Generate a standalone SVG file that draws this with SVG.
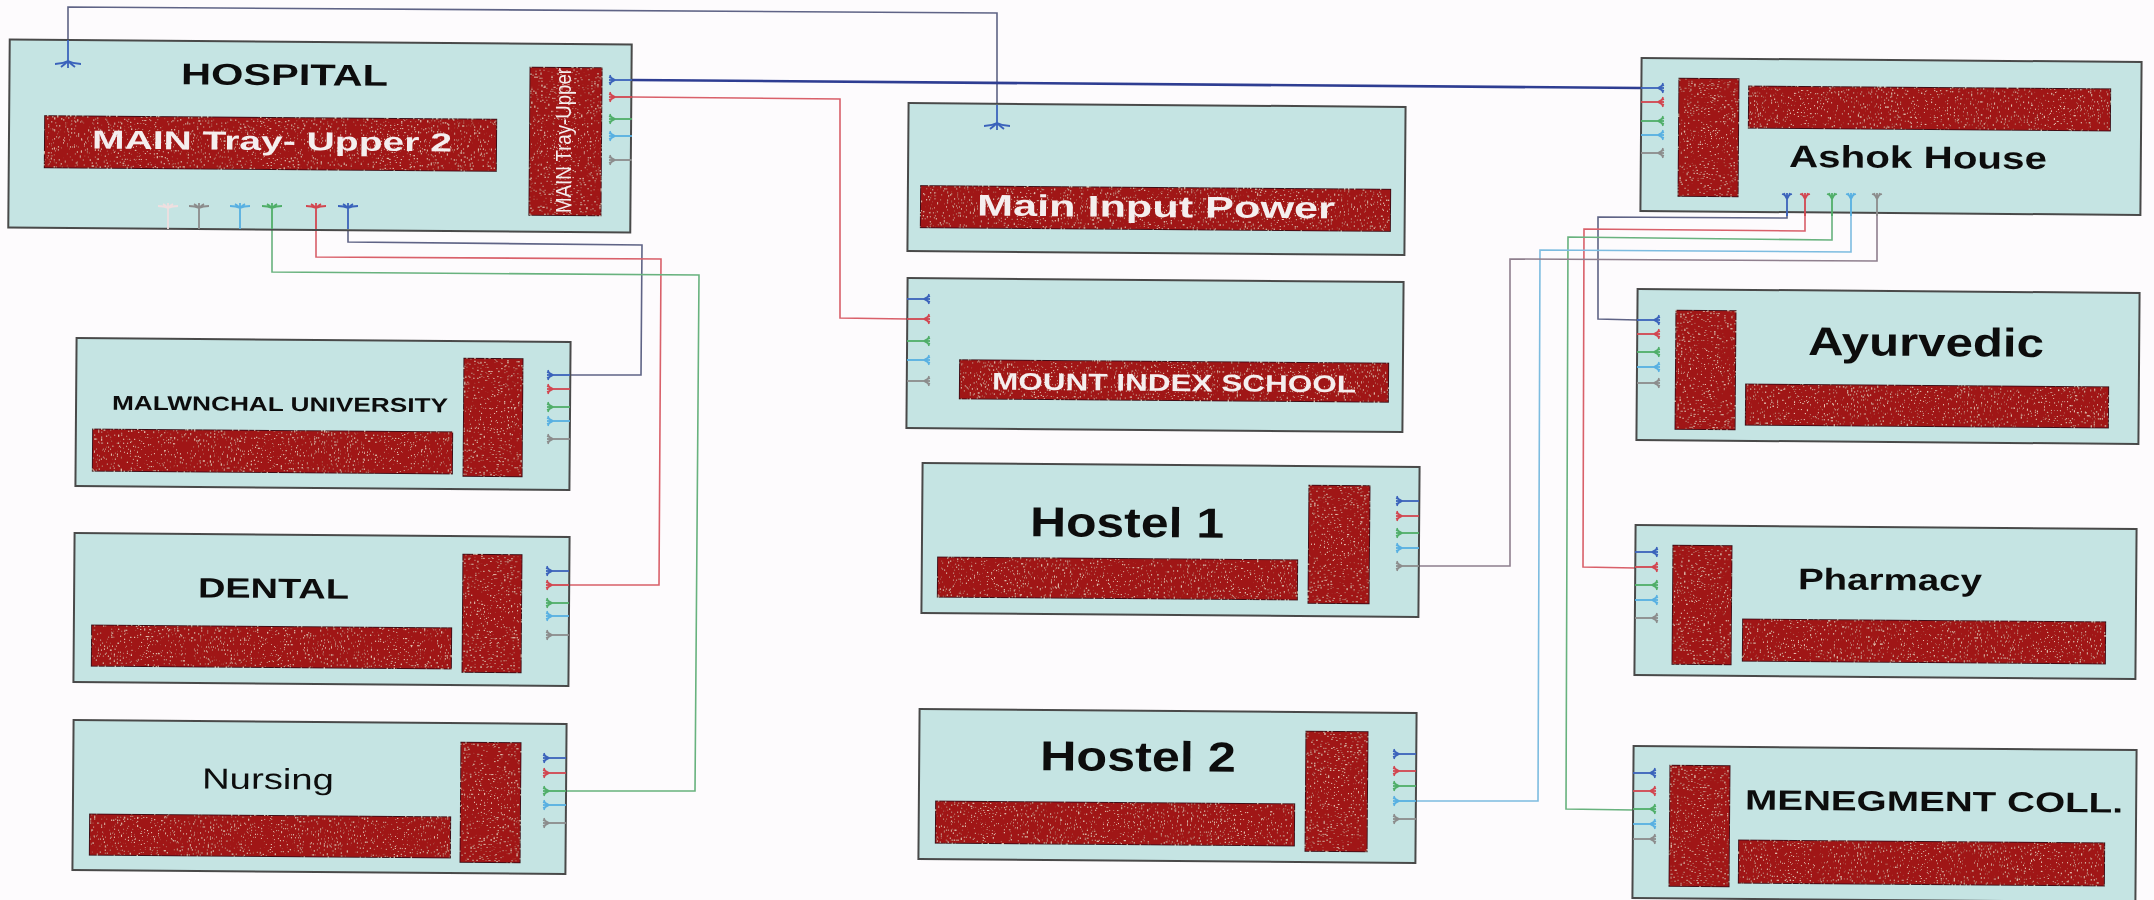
<svg xmlns="http://www.w3.org/2000/svg" width="2154" height="900" viewBox="0 0 2154 900">
<style>
g[id]{filter:url(#soft)}
.box{fill:#c5e4e3;stroke:#4a4a4a;stroke-width:2}
.red{fill:#a01319;stroke:#1c1012;stroke-width:1.5;filter:url(#spk)}
.box,.red,text{transform-box:fill-box;transform-origin:center;transform:rotate(.45deg)}
text{font-family:"Liberation Sans",Arial,sans-serif;font-weight:bold;fill:#0c0c0c}
.w{fill:#f4eeee}
.n{font-weight:normal}
.c{fill:none;stroke-width:1.6;stroke-linejoin:miter}
use,.s{fill:none;stroke-width:1.8}
.bl{stroke:#3a62bb}.rd{stroke:#d2454f}.gr{stroke:#4fae68}.lb{stroke:#58b0e2}.gy{stroke:#8c8c8c}.pk{stroke:#efdfe0}
.bc{stroke:#5f6486}.rc{stroke:#d9606a}.gc{stroke:#68b27e}.lc{stroke:#7dbce0}.yc{stroke:#8f7f8e}.th{stroke:#2e3d92;stroke-width:2.6}
</style>
<defs>
<filter id="soft" x="-2%" y="-2%" width="104%" height="104%"><feGaussianBlur stdDeviation="0.45"/></filter>
<filter id="spk" x="0" y="0" width="100%" height="100%">
<feTurbulence type="fractalNoise" baseFrequency="0.7" numOctaves="2" seed="4" result="t"/>
<feColorMatrix in="t" type="matrix" values="0 0 0 0 .85  0 0 0 0 .55  0 0 0 0 .45  0 0 0 9 -6" result="s"/>
<feComposite in="s" in2="SourceGraphic" operator="in" result="c"/>
<feMerge><feMergeNode in="SourceGraphic"/><feMergeNode in="c"/></feMerge>
</filter>
<g id="pt"><path d="M0 0V-17M0-17Q-1-21-5-22M0-17Q1-21 5-22M0-17Q-2-20-3-23M0-17Q2-20 3-23M0-17V-23"/></g>
<g id="pw"><path d="M0 0V-21M0-21Q-4-23-10-23M0-21Q4-23 10-23M0-21Q-3-24-5-25M0-21Q3-24 5-25M0-21V-26"/></g>
<g id="pf"><path d="M0 0Q-6-3-13-3M0 0Q6-3 13-3M0 0Q-3-3-7-6M0 0Q3-3 7-6M0 0V-7"/></g>
</defs>
<rect width="2154" height="900" fill="#fdfbfd"/>

<g id="connectors">
<path class="c bc" d="M68 40V7L997 13V105"/>
<path class="c th" d="M632 80L1641 88"/>
<path class="c rc" d="M632 97L840 99V318L907 319"/>
<path class="c bc" d="M348 229V242L642 245L641 375H570"/>
<path class="c rc" d="M316 229V257L661 259L659 585H570"/>
<path class="c gc" d="M272 229V272L699 275L695 791H566"/>
<path class="c bc" d="M1787 212V218L1598 217V319L1637 320"/>
<path class="c rc" d="M1805 212V231L1584 229L1583 567L1635 568"/>
<path class="c gc" d="M1832 212V240L1568 237L1566 809L1633 810"/>
<path class="c lc" d="M1851 212V252L1540 250L1538 801H1416"/>
<path class="c yc" d="M1877 212V261L1510 259V566H1419"/>
</g>

<g id="hospital">
<rect class="box" x="9" y="42" width="622" height="188"/>
<rect class="red" x="44" y="117" width="453" height="53"/>
<rect class="red" x="529" y="67" width="73" height="149"/>
<text x="181" y="85" font-size="30" textLength="207" lengthAdjust="spacingAndGlyphs">HOSPITAL</text>
<text class="w" x="92" y="150" font-size="26" textLength="360" lengthAdjust="spacingAndGlyphs">MAIN Tray- Upper 2</text>
<text class="w n" x="0" y="0" font-size="22" textLength="145" lengthAdjust="spacingAndGlyphs" style="transform-box:view-box;transform-origin:0 0;transform:translate(571px,213px) rotate(-90deg)">MAIN Tray-Upper</text>
<path class="s bl" d="M68 40V61"/>
<use href="#pf" class="bl" transform="translate(68 61) rotate(180)"/>
<use href="#pw" class="pk" transform="translate(168 229)"/>
<use href="#pw" class="gy" transform="translate(199 229)"/>
<use href="#pw" class="lb" transform="translate(240 229)"/>
<use href="#pw" class="gr" transform="translate(272 229)"/>
<use href="#pw" class="rd" transform="translate(316 229)"/>
<use href="#pw" class="bl" transform="translate(348 229)"/>
<use href="#pt" class="bl" transform="translate(632 80) rotate(-90)"/>
<use href="#pt" class="rd" transform="translate(632 97) rotate(-90)"/>
<use href="#pt" class="gr" transform="translate(632 119) rotate(-90)"/>
<use href="#pt" class="lb" transform="translate(632 136) rotate(-90)"/>
<use href="#pt" class="gy" transform="translate(632 160) rotate(-90)"/>
</g>

<g id="main-input-power">
<rect class="box" x="908" y="105" width="497" height="148"/>
<rect class="red" x="920" y="187" width="471" height="43"/>
<text class="w" x="977" y="217" font-size="30" textLength="358" lengthAdjust="spacingAndGlyphs">Main Input Power</text>
<path class="s bl" d="M997 105V123"/>
<use href="#pf" class="bl" transform="translate(997 123) rotate(180)"/>
</g>

<g id="mount-index-school">
<rect class="box" x="907" y="280" width="496" height="150"/>
<rect class="red" x="959" y="361" width="430" height="40"/>
<text class="w" x="992" y="391" font-size="24" textLength="364" lengthAdjust="spacingAndGlyphs">MOUNT INDEX SCHOOL</text>
<use href="#pt" class="bl" transform="translate(907 299) rotate(90)"/>
<use href="#pt" class="rd" transform="translate(907 319) rotate(90)"/>
<use href="#pt" class="gr" transform="translate(907 341) rotate(90)"/>
<use href="#pt" class="lb" transform="translate(907 360) rotate(90)"/>
<use href="#pt" class="gy" transform="translate(907 381) rotate(90)"/>
</g>

<g id="hostel-1">
<rect class="box" x="922" y="465" width="497" height="150"/>
<rect class="red" x="937" y="558" width="361" height="41"/>
<rect class="red" x="1308" y="485" width="62" height="119"/>
<text x="1030" y="537" font-size="42" textLength="194" lengthAdjust="spacingAndGlyphs">Hostel 1</text>
<use href="#pt" class="bl" transform="translate(1419 501) rotate(-90)"/>
<use href="#pt" class="rd" transform="translate(1419 516) rotate(-90)"/>
<use href="#pt" class="gr" transform="translate(1419 533) rotate(-90)"/>
<use href="#pt" class="lb" transform="translate(1419 548) rotate(-90)"/>
<use href="#pt" class="gy" transform="translate(1419 566) rotate(-90)"/>
</g>

<g id="hostel-2">
<rect class="box" x="919" y="711" width="497" height="150"/>
<rect class="red" x="935" y="802" width="360" height="43"/>
<rect class="red" x="1305" y="731" width="63" height="121"/>
<text x="1040" y="771" font-size="42" textLength="196" lengthAdjust="spacingAndGlyphs">Hostel 2</text>
<use href="#pt" class="bl" transform="translate(1416 754) rotate(-90)"/>
<use href="#pt" class="rd" transform="translate(1416 771) rotate(-90)"/>
<use href="#pt" class="gr" transform="translate(1416 786) rotate(-90)"/>
<use href="#pt" class="lb" transform="translate(1416 801) rotate(-90)"/>
<use href="#pt" class="gy" transform="translate(1416 819) rotate(-90)"/>
</g>

<g id="malwnchal-university">
<rect class="box" x="76" y="340" width="494" height="148"/>
<rect class="red" x="92" y="430" width="361" height="43"/>
<rect class="red" x="463" y="358" width="60" height="119"/>
<text x="112" y="411" font-size="20" textLength="336" lengthAdjust="spacingAndGlyphs">MALWNCHAL UNIVERSITY</text>
<use href="#pt" class="bl" transform="translate(570 375) rotate(-90)"/>
<use href="#pt" class="rd" transform="translate(570 389) rotate(-90)"/>
<use href="#pt" class="gr" transform="translate(570 407) rotate(-90)"/>
<use href="#pt" class="lb" transform="translate(570 421) rotate(-90)"/>
<use href="#pt" class="gy" transform="translate(570 439) rotate(-90)"/>
</g>

<g id="dental">
<rect class="box" x="74" y="535" width="495" height="149"/>
<rect class="red" x="91" y="626" width="361" height="42"/>
<rect class="red" x="462" y="554" width="60" height="119"/>
<text x="198" y="598" font-size="28" textLength="151" lengthAdjust="spacingAndGlyphs">DENTAL</text>
<use href="#pt" class="bl" transform="translate(569 571) rotate(-90)"/>
<use href="#pt" class="rd" transform="translate(569 585) rotate(-90)"/>
<use href="#pt" class="gr" transform="translate(569 603) rotate(-90)"/>
<use href="#pt" class="lb" transform="translate(569 616) rotate(-90)"/>
<use href="#pt" class="gy" transform="translate(569 635) rotate(-90)"/>
</g>

<g id="nursing">
<rect class="box" x="73" y="722" width="493" height="150"/>
<rect class="red" x="89" y="815" width="362" height="42"/>
<rect class="red" x="460" y="742" width="61" height="121"/>
<text class="n" x="202" y="789" font-size="29" textLength="132" lengthAdjust="spacingAndGlyphs">Nursing</text>
<use href="#pt" class="bl" transform="translate(566 758) rotate(-90)"/>
<use href="#pt" class="rd" transform="translate(566 773) rotate(-90)"/>
<use href="#pt" class="gr" transform="translate(566 791) rotate(-90)"/>
<use href="#pt" class="lb" transform="translate(566 805) rotate(-90)"/>
<use href="#pt" class="gy" transform="translate(566 823) rotate(-90)"/>
</g>

<g id="ashok-house">
<rect class="box" x="1641" y="60" width="500" height="153"/>
<rect class="red" x="1678" y="78" width="61" height="119"/>
<rect class="red" x="1748" y="87" width="363" height="43"/>
<text x="1789" y="168" font-size="31" textLength="258" lengthAdjust="spacingAndGlyphs">Ashok House</text>
<use href="#pt" class="bl" transform="translate(1641 88) rotate(90)"/>
<use href="#pt" class="rd" transform="translate(1641 102) rotate(90)"/>
<use href="#pt" class="gr" transform="translate(1641 121) rotate(90)"/>
<use href="#pt" class="lb" transform="translate(1641 135) rotate(90)"/>
<use href="#pt" class="gy" transform="translate(1641 153) rotate(90)"/>
<use href="#pt" class="bl" transform="translate(1787 216)"/>
<use href="#pt" class="rd" transform="translate(1805 216)"/>
<use href="#pt" class="gr" transform="translate(1832 216)"/>
<use href="#pt" class="lb" transform="translate(1851 216)"/>
<use href="#pt" class="gy" transform="translate(1877 216)"/>
</g>

<g id="ayurvedic">
<rect class="box" x="1637" y="291" width="502" height="151"/>
<rect class="red" x="1675" y="310" width="61" height="120"/>
<rect class="red" x="1745" y="385" width="364" height="42"/>
<text x="1808" y="356" font-size="40" textLength="236" lengthAdjust="spacingAndGlyphs">Ayurvedic</text>
<use href="#pt" class="bl" transform="translate(1637 320) rotate(90)"/>
<use href="#pt" class="rd" transform="translate(1637 334) rotate(90)"/>
<use href="#pt" class="gr" transform="translate(1637 352) rotate(90)"/>
<use href="#pt" class="lb" transform="translate(1637 367) rotate(90)"/>
<use href="#pt" class="gy" transform="translate(1637 383) rotate(90)"/>
</g>

<g id="pharmacy">
<rect class="box" x="1635" y="527" width="501" height="150"/>
<rect class="red" x="1672" y="545" width="60" height="120"/>
<rect class="red" x="1742" y="620" width="364" height="43"/>
<text x="1798" y="590" font-size="30" textLength="184" lengthAdjust="spacingAndGlyphs">Pharmacy</text>
<use href="#pt" class="bl" transform="translate(1635 552) rotate(90)"/>
<use href="#pt" class="rd" transform="translate(1635 567) rotate(90)"/>
<use href="#pt" class="gr" transform="translate(1635 585) rotate(90)"/>
<use href="#pt" class="lb" transform="translate(1635 600) rotate(90)"/>
<use href="#pt" class="gy" transform="translate(1635 618) rotate(90)"/>
</g>

<g id="menegment-coll">
<rect class="box" x="1633" y="748" width="503" height="152"/>
<rect class="red" x="1669" y="765" width="61" height="122"/>
<rect class="red" x="1738" y="841" width="367" height="44"/>
<text x="1745" y="811" font-size="28" textLength="378" lengthAdjust="spacingAndGlyphs">MENEGMENT COLL.</text>
<use href="#pt" class="bl" transform="translate(1633 773) rotate(90)"/>
<use href="#pt" class="rd" transform="translate(1633 791) rotate(90)"/>
<use href="#pt" class="gr" transform="translate(1633 809) rotate(90)"/>
<use href="#pt" class="lb" transform="translate(1633 824) rotate(90)"/>
<use href="#pt" class="gy" transform="translate(1633 839) rotate(90)"/>
</g>
</svg>
